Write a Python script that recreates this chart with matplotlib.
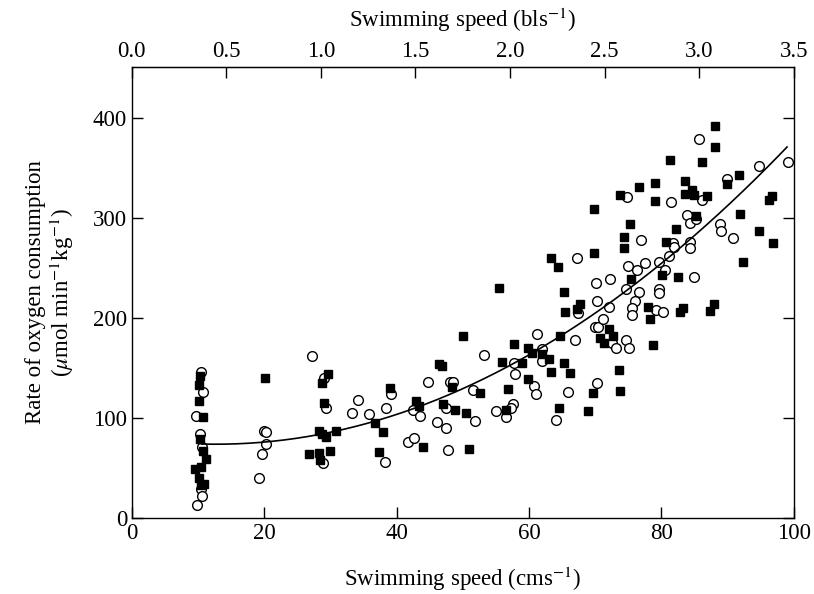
import numpy as np
import matplotlib
matplotlib.use("Agg")
import matplotlib.pyplot as plt

plt.rcParams["font.family"] = ["Liberation Serif", "DejaVu Serif"]
plt.rcParams["mathtext.fontset"] = "stix"

# filled squares (cm/s, umol/min/kg)
sq_x = [10.3, 10.1, 10.2, 10.7, 10.3, 10.7, 11.2, 9.6, 10.4, 10.2, 10.9, 10.4,
        20.1,
        29.6, 28.7, 29.0, 28.3, 28.7, 29.4, 30.9, 26.8, 28.3, 29.9, 28.4,
        36.7, 37.9, 37.4, 39.0, 44.0, 43.0, 43.4, 46.4, 46.8, 47.0, 48.4, 48.9,
        50.0, 50.5, 50.9, 52.6, 55.5, 56.0, 56.9, 56.6, 57.7, 58.9, 59.9, 60.5,
        59.9, 62.0, 63.1, 63.3, 63.3, 64.4, 64.5, 65.3, 65.4, 64.7, 65.3, 66.2,
        67.7, 67.3, 69.8, 69.8, 70.8, 69.7, 69.0,
        72.1, 72.7, 71.3, 73.6, 73.8, 73.8, 74.3, 75.2, 74.3, 76.6, 75.4, 78.0,
        78.3, 78.7, 79.0, 79.0, 80.1, 80.7, 81.3, 82.2, 82.5, 82.9, 83.3, 83.6,
        83.6, 84.7, 85.0, 85.3, 86.1, 86.9, 88.1, 88.1, 87.3, 87.9, 90.0, 91.7,
        91.9, 92.3, 94.7, 96.3, 96.8, 96.9]
sq_y = [142, 133, 117, 101, 79, 67, 59, 49, 51, 40, 34, 33,
        140,
        144, 135, 115, 87, 84, 81, 87, 64, 65, 67, 58,
        95, 86, 66, 130, 71, 117, 112, 154, 152, 114, 131, 108,
        182, 105, 69, 125, 230, 156, 129, 108, 174, 155, 170, 165,
        139, 164, 159, 146, 260, 251, 110, 226, 206, 182, 155, 145,
        214, 209, 309, 265, 180, 125, 107,
        189, 182, 175, 148, 127, 323, 281, 294, 270, 331, 239, 211,
        199, 173, 335, 317, 243, 276, 358, 289, 241, 206, 210, 337,
        324, 328, 323, 302, 356, 322, 392, 371, 207, 214, 334, 343,
        304, 256, 287, 318, 322, 275]

# open circles
ci_x = [10.4, 10.8, 9.7, 10.3, 10.6, 10.5, 10.6, 9.8,
        19.9, 20.3, 20.2, 19.6, 19.2,
        27.2, 29.0, 29.4, 28.9,
        34.2, 33.3, 35.8, 38.2, 39.1, 38.4, 41.7, 42.6, 42.5, 43.5, 44.7, 46.1,
        47.4, 47.7, 47.4, 48.0, 48.6, 51.6, 51.8, 53.2, 55.0, 56.6, 57.6, 57.3,
        57.8, 57.9, 60.7, 61.0, 61.2, 61.9, 62.0, 64.1, 65.9, 67.3, 67.4, 67.0,
        70.2, 70.3, 70.0, 70.5, 70.3,
        72.2, 72.1, 71.2, 72.6, 73.1, 74.6, 75.1, 74.8, 76.9, 75.0, 76.4, 77.5,
        74.7, 76.7, 76.0, 75.6, 75.5, 79.2, 80.2, 79.7, 79.7, 79.6, 80.6, 81.1,
        81.7, 81.9, 81.4, 83.9, 84.3, 85.3, 84.3, 84.3, 84.9, 85.7, 86.2, 88.9,
        89.0, 90.0, 90.9, 94.7, 99.1]
ci_y = [146, 126, 102, 84, 71, 29, 22, 13,
        87, 86, 74, 64, 40,
        162, 140, 110, 55,
        118, 105, 104, 56, 124, 110, 76, 80, 108, 102, 136, 96,
        90, 68, 110, 136, 136, 128, 97, 163, 107, 101, 114, 110,
        155, 144, 132, 124, 184, 169, 157, 98, 126, 260, 205, 178,
        235, 217, 191, 191, 135,
        239, 211, 199, 175, 170, 178, 170, 321, 278, 252, 248, 255,
        229, 226, 217, 210, 203, 208, 206, 229, 225, 256, 248, 262,
        275, 271, 316, 303, 295, 299, 276, 270, 241, 379, 318, 294,
        287, 339, 280, 352, 356]

# quadratic regression line as drawn in the figure (y = c2*x^2 + c1*x + c0)
curve_coef = [0.0399, -1.012, 80.2]
curve_range = [10.5, 99.0]

cm_per_bl = 100 / 3.5
top_ticks = [0.0, 0.5, 1.0, 1.5, 2.0, 2.5, 3.0, 3.5]

fig = plt.figure(figsize=(8.14, 5.94), dpi=100)
ax = fig.add_axes([0.162, 0.128, 0.813, 0.759])

xs = np.linspace(curve_range[0], curve_range[1], 200)
ax.plot(xs, np.polyval(curve_coef, xs), color="black", lw=1.2, zorder=3)

ax.plot(ci_x, ci_y, "o", ms=7, mfc="white", mec="black", mew=1.0, ls="none", zorder=2)
ax.plot(sq_x, sq_y, "s", ms=5.6, mfc="black", mec="black", ls="none", zorder=4)

ax.set_xlim(0, 100)
ax.set_ylim(0, 451)
ax.set_xticks([0, 20, 40, 60, 80, 100])
ax.set_yticks([0, 100, 200, 300, 400])
ax.tick_params(direction="in", length=8, width=1, labelsize=16.5, right=True)
ax.set_xlabel(r"Swimming speed (cms$^{-1}$)", fontsize=16.5, labelpad=15)
ax.set_ylabel("Rate of oxygen consumption\n" + r"($\mu$mol min$^{-1}$kg$^{-1}$)",
              fontsize=16.5, labelpad=12, linespacing=1.1)

sec = ax.secondary_xaxis("top", functions=(lambda x: x / cm_per_bl, lambda b: b * cm_per_bl))
sec.set_xticks(top_ticks)
sec.set_xticklabels([f"{t:.1f}" for t in top_ticks])
sec.tick_params(direction="in", length=8, width=1, labelsize=16.5)
sec.set_xlabel(r"Swimming speed (bls$^{-1}$)", fontsize=16.5, labelpad=10)

for s in ax.spines.values():
    s.set_linewidth(1.0)

fig.savefig("out.png", dpi=100)
